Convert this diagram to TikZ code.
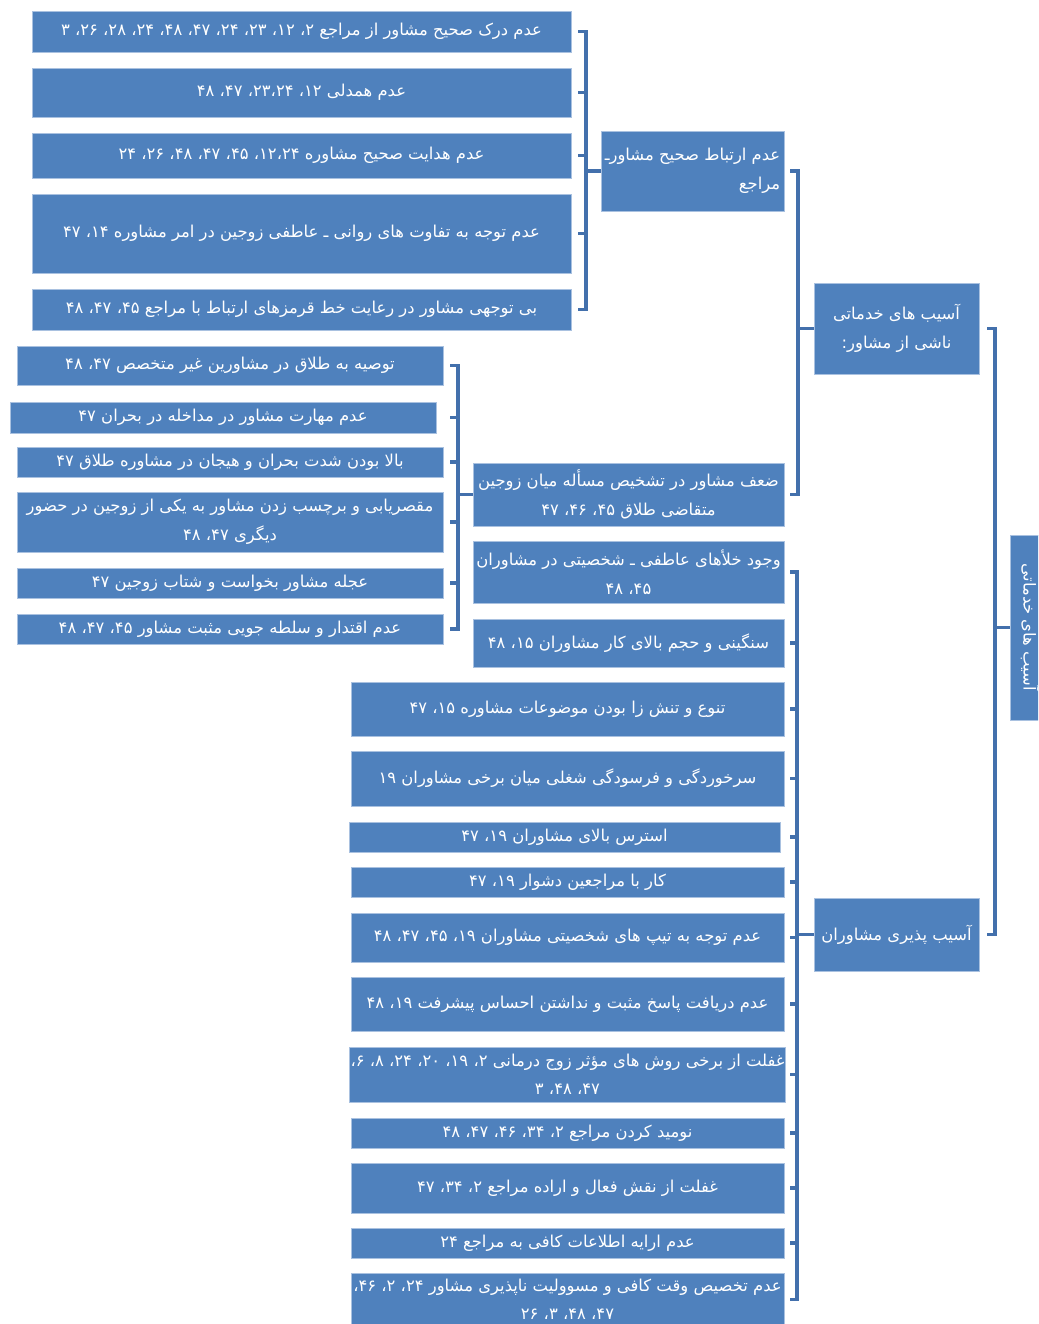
\documentclass[tikz,border=0pt]{standalone}
\usepackage{fontspec}
\newfontfamily\fa[Script=Arabic]{DejaVu Sans}
\TeXXeTstate=1
\definecolor{boxblue}{HTML}{4F81BD}
\definecolor{boxedge}{HTML}{A9C1E0}
\definecolor{brblue}{HTML}{4370AC}
\newcommand\pl[1]{\beginR #1\endR}
\newcommand\pbox[7][]{\node[pb,#1,minimum width={(#5-#3)*1pt},minimum height={(#6-#4)*1pt}] (#2) at ({(#3+#5)/2},{(#4+#6)/2}) {#7};}
\tikzset{
  pb/.style={fill=boxblue, draw=boxedge, line width=0.8pt, text=white, inner sep=1pt, outer sep=0pt,
    font=\fa\fontsize{16.4}{28.5}\selectfont, align=center},
  br/.style={draw=brblue, line width=3.5pt, line join=miter, line cap=butt},
}
\begin{document}
\begin{tikzpicture}[x=1pt,y=-1pt]
\useasboundingbox (0,0) rectangle (1038,1324);
\clip (0,0) rectangle (1038,1324);
% upper-left group
\pbox{n1}{32}{11}{571}{52}{\pl{عدم درک صحیح مشاور از  مراجع ۲، ۱۲، ۲۳، ۲۴، ۴۷، ۴۸، ۲۴، ۲۸، ۲۶، ۳}}
\pbox{n2}{32}{68}{571}{117}{\pl{عدم همدلی ۱۲، ۲۳،۲۴، ۴۷، ۴۸}}
\pbox{n3}{32}{133}{571}{178}{\pl{عدم هدایت صحیح مشاوره ۱۲،۲۴، ۴۵، ۴۷، ۴۸، ۲۶، ۲۴}}
\pbox{n4}{32}{194}{571}{273}{\pl{عدم توجه به تفاوت های روانی ـ عاطفی زوجین در امر مشاوره ۱۴، ۴۷}}
\pbox{n5}{32}{289}{571}{330}{\pl{بی توجهی مشاور در رعایت خط قرمزهای ارتباط با مراجع ۴۵، ۴۷، ۴۸}}
\pbox[align=right]{p1}{601}{131}{784}{211}{\pl{عدم ارتباط صحیح مشاورـ}\\\pl{مراجع}}
% second-left group
\pbox{n6}{17}{346}{443}{385}{\pl{توصیه به طلاق در مشاورین غیر متخصص ۴۷، ۴۸}}
\pbox{n7}{10}{402}{436}{433}{\pl{عدم مهارت مشاور در مداخله در بحران ۴۷}}
\pbox{n8}{17}{447}{443}{477}{\pl{بالا بودن شدت بحران و هیجان در  مشاوره طلاق ۴۷}}
\pbox{n9}{17}{492}{443}{552}{\pl{مقصریابی و برچسب زدن مشاور به یکی از زوجین در حضور}\\\pl{دیگری ۴۷، ۴۸}}
\pbox{n10}{17}{568}{443}{598}{\pl{عجله مشاور بخواست و شتاب زوجین ۴۷}}
\pbox{n11}{17}{614}{443}{644}{\pl{عدم اقتدار و سلطه جویی مثبت مشاور ۴۵، ۴۷، ۴۸}}
\pbox{p2}{473}{463}{784}{526}{\pl{ضعف مشاور در تشخیص مسأله میان زوجین}\\\pl{متقاضی طلاق ۴۵، ۴۶، ۴۷}}
\pbox{g1}{814}{283}{979}{374}{\pl{آسیب های خدماتی}\\\pl{ناشی از مشاور:}}
% lower group
\pbox{a}{473}{541}{784}{603}{\pl{وجود خلأهای عاطفی ـ شخصیتی در مشاوران}\\\pl{۴۵، ۴۸}}
\pbox{b}{473}{619}{784}{667}{\pl{سنگینی و حجم بالای کار مشاوران ۱۵، ۴۸}}
\pbox{c}{351}{682}{784}{736}{\pl{تنوع و تنش زا بودن موضوعات مشاوره ۱۵، ۴۷}}
\pbox{d}{351}{751}{784}{806}{\pl{سرخوردگی و فرسودگی شغلی میان برخی مشاوران ۱۹}}
\pbox{e}{349}{822}{780}{852}{\pl{استرس بالای مشاوران ۱۹، ۴۷}}
\pbox{f}{351}{867}{784}{897}{\pl{کار با مراجعین دشوار ۱۹، ۴۷}}
\pbox{g}{351}{913}{784}{962}{\pl{عدم توجه به تیپ های شخصیتی مشاوران ۱۹، ۴۵، ۴۷، ۴۸}}
\pbox{h}{351}{977}{784}{1031}{\pl{عدم دریافت پاسخ مثبت و نداشتن احساس پیشرفت ۱۹، ۴۸}}
\pbox{i}{351}{1047}{784}{1102}{\pl{غفلت از برخی روش های مؤثر زوج درمانی ۲، ۱۹، ۲۰، ۲۴، ۸، ۶،}\\\pl{۴۷، ۴۸، ۳}}
\pbox{j}{351}{1118}{784}{1148}{\pl{نومید کردن مراجع ۲، ۳۴، ۴۶، ۴۷، ۴۸}}
\pbox{k}{351}{1163}{784}{1213}{\pl{غفلت از نقش فعال و اراده مراجع ۲، ۳۴، ۴۷}}
\pbox{l}{351}{1228}{784}{1258}{\pl{عدم ارایه اطلاعات کافی به مراجع ۲۴}}
\pbox{m}{351}{1273}{784}{1326}{\pl{عدم تخصیص وقت کافی و مسوولیت ناپذیری مشاور ۲۴، ۲، ۴۶،}\\\pl{۴۷، ۴۸، ۳، ۲۶}}
\pbox{g2}{814}{898}{979}{971}{\pl{آسیب پذیری مشاوران}}
\node[pb, rotate=-90, minimum width=185pt, minimum height=40pt] (root) at (1030,627.5) {\pl{آسیب های خدماتی}};
% spine coordinates
\coordinate (tA) at (578,0); \coordinate (sA) at (586,0);
\coordinate (tB) at (450,0); \coordinate (sB) at (458,0);
\coordinate (tC) at (790,0); \coordinate (sC) at (798,0);
\coordinate (tD) at (790,0); \coordinate (sD) at (797,0);
\coordinate (tE) at (987,0); \coordinate (sE) at (995,0);
% bracket A
\draw[br] (n1.east -| tA) -- (n1.east -| sA) -- (n5.east -| sA) -- (n5.east -| tA);
\foreach \c in {n2,n3,n4} \draw[br] (\c.east -| tA) -- (\c.east -| sA);
\draw[br] (p1.west -| sA) -- (p1.west);
% bracket B
\draw[br] (n6.east -| tB) -- (n6.east -| sB) -- (n11.east -| sB) -- (n11.east -| tB);
\foreach \c in {n7,n8,n9,n10} \draw[br] (\c.east -| tB) -- (\c.east -| sB);
\draw[br] (p2.west -| sB) -- (p2.west);
% bracket C
\draw[br] (p1.east -| tC) -- (p1.east -| sC) -- (p2.east -| sC) -- (p2.east -| tC);
\draw[br] (g1.west -| sC) -- (g1.west);
% bracket D
\draw[br] (a.east -| tD) -- (a.east -| sD) -- (m.east -| sD) -- (m.east -| tD);
\foreach \c in {b,c,d,e,f,g,h,i,j,k,l} \draw[br] (\c.east -| tD) -- (\c.east -| sD);
\draw[br] (g2.west -| sD) -- (g2.west);
% bracket E
\draw[br] (g1.east -| tE) -- (g1.east -| sE) -- (g2.east -| sE) -- (g2.east -| tE);
\draw[br] (root.south -| sE) -- (root.south);
\end{tikzpicture}
\end{document}
